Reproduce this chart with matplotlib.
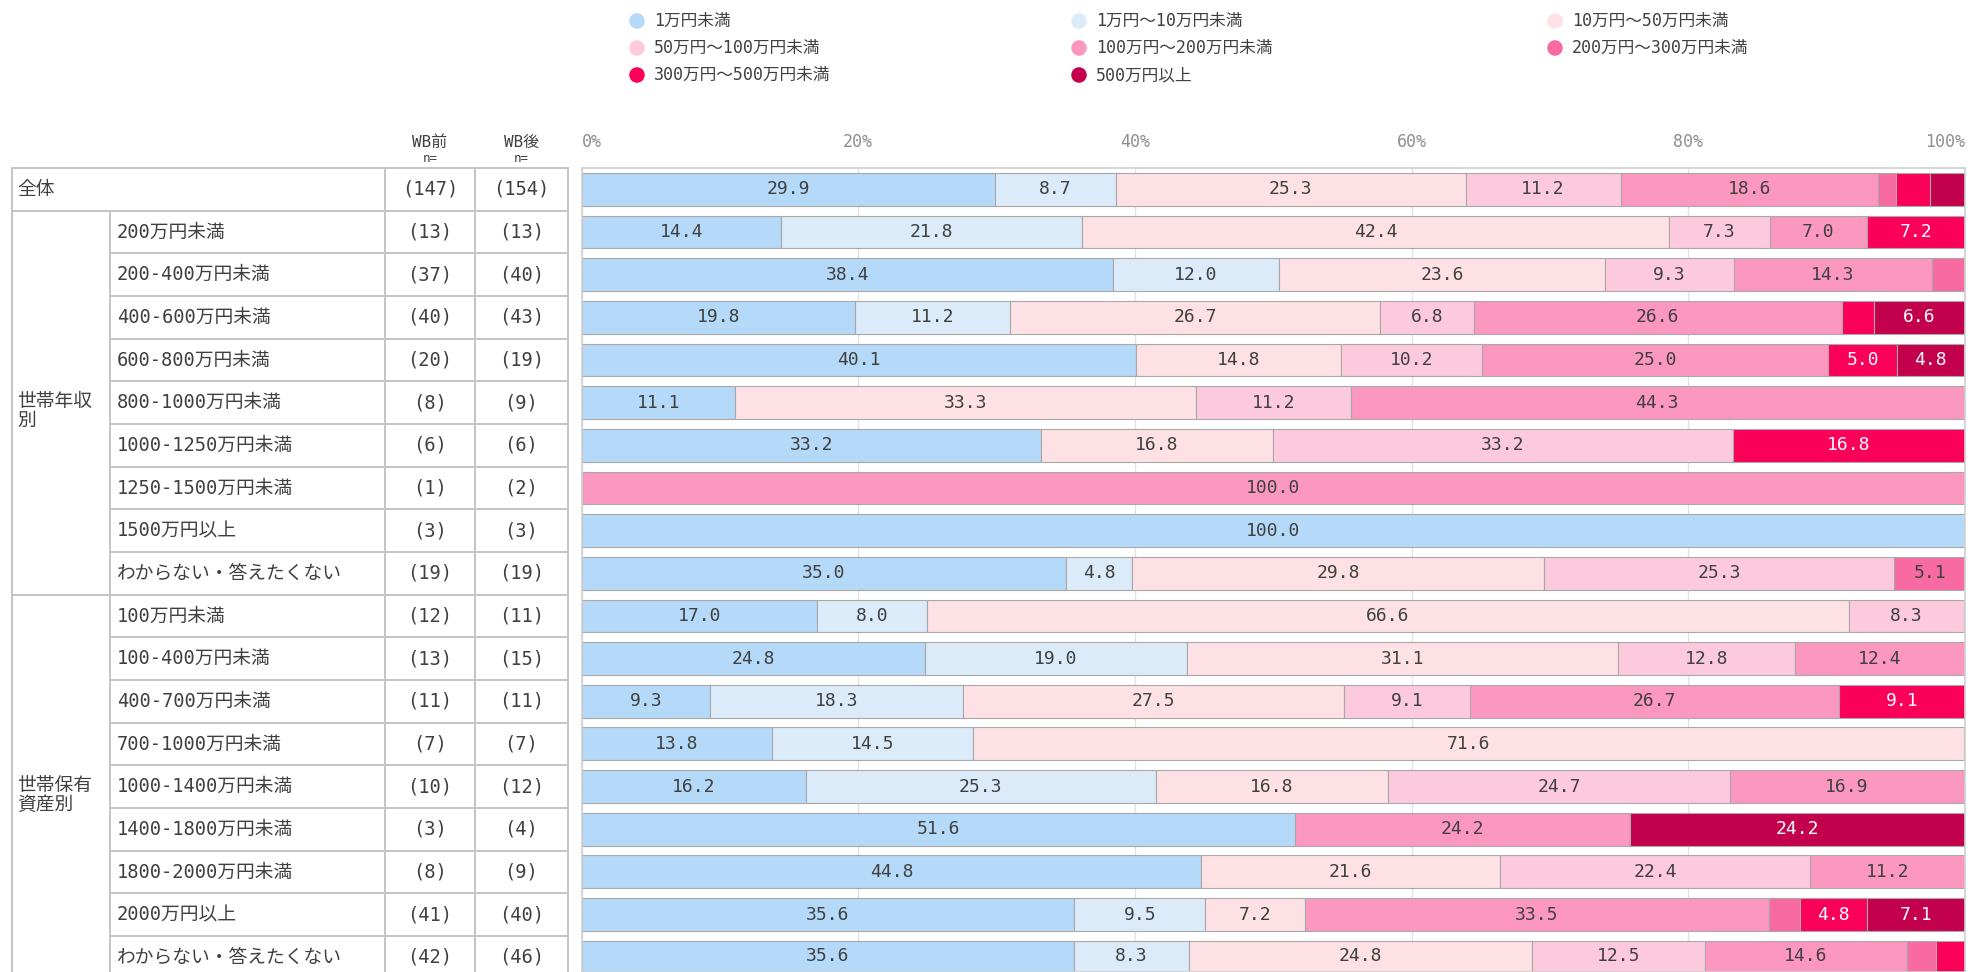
import matplotlib.pyplot as plt

plt.rcParams['font.family'] = ['DejaVu Sans Mono', 'Noto Sans CJK JP']

categories = ['1万円未満', '1万円～10万円未満', '10万円～50万円未満', '50万円～100万円未満',
              '100万円～200万円未満', '200万円～300万円未満', '300万円～500万円未満', '500万円以上']
colors = ['#b5d9f8', '#dbebfa', '#fde1e5', '#fdc9dc', '#fc97bf', '#f76aa2', '#fb0059', '#c3004b']
text_colors = ['#404040'] * 6 + ['white', 'white']

row_labels = ['全体',
              '200万円未満', '200-400万円未満', '400-600万円未満', '600-800万円未満',
              '800-1000万円未満', '1000-1250万円未満', '1250-1500万円未満', '1500万円以上',
              'わからない・答えたくない',
              '100万円未満', '100-400万円未満', '400-700万円未満', '700-1000万円未満',
              '1000-1400万円未満', '1400-1800万円未満', '1800-2000万円未満', '2000万円以上',
              'わからない・答えたくない']
n_before = [147, 13, 37, 40, 20, 8, 6, 1, 3, 19, 12, 13, 11, 7, 10, 3, 8, 41, 42]
n_after = [154, 13, 40, 43, 19, 9, 6, 2, 3, 19, 11, 15, 11, 7, 12, 4, 9, 40, 46]
groups = [('世帯年収\n別', 1, 9), ('世帯保有\n資産別', 10, 18)]

# share (%) of each amount band, one list per band, rows in table order
lt_1 = [29.9, 14.4, 38.4, 19.8, 40.1, 11.1, 33.2, 0, 100.0, 35.0,
        17.0, 24.8, 9.3, 13.8, 16.2, 51.6, 44.8, 35.6, 35.6]
r1_10 = [8.7, 21.8, 12.0, 11.2, 0, 0, 0, 0, 0, 4.8,
         8.0, 19.0, 18.3, 14.5, 25.3, 0, 0, 9.5, 8.3]
r10_50 = [25.3, 42.4, 23.6, 26.7, 14.8, 33.3, 16.8, 0, 0, 29.8,
          66.6, 31.1, 27.5, 71.6, 16.8, 0, 21.6, 7.2, 24.8]
r50_100 = [11.2, 7.3, 9.3, 6.8, 10.2, 11.2, 33.2, 0, 0, 25.3,
           8.3, 12.8, 9.1, 0, 24.7, 0, 22.4, 0, 12.5]
r100_200 = [18.6, 7.0, 14.3, 26.6, 25.0, 44.3, 0, 100.0, 0, 0,
            0, 12.4, 26.7, 0, 16.9, 24.2, 11.2, 33.5, 14.6]
r200_300 = [1.3, 0, 2.4, 0, 0, 0, 0, 0, 0, 5.1,
            0, 0, 0, 0, 0, 0, 0, 2.3, 2.1]
r300_500 = [2.5, 7.2, 0, 2.3, 5.0, 0, 16.8, 0, 0, 0,
            0, 0, 9.1, 0, 0, 0, 0, 4.8, 2.1]
ge_500 = [2.5, 0, 0, 6.6, 4.8, 0, 0, 0, 0, 0,
          0, 0, 0, 0, 0, 24.2, 0, 7.1, 0]
series = [lt_1, r1_10, r10_50, r50_100, r100_200, r200_300, r300_500, ge_500]

W, H = 1968, 972
fig = plt.figure(figsize=(W / 100, H / 100), dpi=100)

# layout in pixels
top = 168            # table / plot top edge
pitch = 42.66        # row height
x0, x1 = 581.5, 1965  # bar area
nrows = len(row_labels)
ybot = -0.5 + (H - top) / pitch

# overlay in pixel coordinates for table, header and legend
ov = fig.add_axes([0, 0, 1, 1])
ov.set_xlim(0, W)
ov.set_ylim(H, 0)
ov.axis('off')

# bars
ax = fig.add_axes([x0 / W, 0, (x1 - x0) / W, (H - top) / H])
ax.set_xlim(0, 100)
ax.set_ylim(ybot, -0.5)
left = [0.0] * nrows
for vals, col, tc in zip(series, colors, text_colors):
    idx = [i for i, v in enumerate(vals) if v > 0]
    if not idx:
        continue
    v = [vals[i] for i in idx]
    l = [left[i] for i in idx]
    bars = ax.barh(idx, v, left=l, height=0.77, color=col,
                   edgecolor='#a8a8a8', linewidth=0.8, zorder=2)
    ax.bar_label(bars, labels=[f'{x:.1f}' if x >= 3 else '' for x in v],
                 label_type='center', color=tc, fontsize=13)
    for i in idx:
        left[i] += vals[i]

ax.set_xticks([0, 20, 40, 60, 80, 100])
ax.set_xticklabels(['0%', '20%', '40%', '60%', '80%', '100%'])
ax.xaxis.tick_top()
ax.tick_params(axis='x', length=0, pad=12, labelsize=12, labelcolor='#8f8f8f')
tl = ax.get_xticklabels()
tl[0].set_ha('left')
tl[-1].set_ha('right')
ax.set_yticks([])
ax.grid(axis='x', color='#e2e2e2', linewidth=1)
ax.set_axisbelow(True)
for s in ax.spines.values():
    s.set_color('#d0d0d0')
    s.set_linewidth(1.2)

# table grid
lc, lw = '#c4c4c4', 1.4
cx_left, cx_grp, cx_n1, cx_n2, cx_right = 12, 110, 385, 475, 568


def row_y(i):
    return top + (i + 0.5) * pitch


ov.plot([cx_left, cx_right], [top, top], color=lc, lw=lw)
for x in (cx_left, cx_n1, cx_n2, cx_right):
    ov.plot([x, x], [top, H], color=lc, lw=lw)
ov.plot([cx_grp, cx_grp], [top + pitch, H], color=lc, lw=lw)
group_starts = [g[1] for g in groups]
for i in range(1, nrows + 1):
    yb = top + i * pitch
    xs = cx_left if i in group_starts else cx_grp
    ov.plot([xs, cx_right], [yb, yb], color=lc, lw=lw)

tcol = '#404040'
for i, (lab, a, b) in enumerate(zip(row_labels, n_before, n_after)):
    y = row_y(i)
    ov.text(17 if i == 0 else 117, y, lab, va='center', ha='left', fontsize=13.5, color=tcol)
    ov.text((cx_n1 + cx_n2) / 2, y, f'({a})', va='center', ha='center', fontsize=13.5, color=tcol)
    ov.text((cx_n2 + cx_right) / 2, y, f'({b})', va='center', ha='center', fontsize=13.5, color=tcol)

for name, a, b in groups:
    ymid = row_y((a + b) / 2)
    ov.text(17, ymid - 11, name, va='top', ha='left', fontsize=13.5, color=tcol, linespacing=1.0)

# column headers
for xc, head in (((cx_n1 + cx_n2) / 2, 'WB前'), ((cx_n2 + cx_right) / 2, 'WB後')):
    ov.text(xc, 142, head, ha='center', va='center', fontsize=11.5, color=tcol)
    ov.text(xc, 158, 'n=', ha='center', va='center', fontsize=9, color=tcol)

# legend, three columns filled row by row
leg_x = [637, 1079, 1555]
leg_y = [21, 48, 75]
for k, (cat, col) in enumerate(zip(categories, colors)):
    lx, ly = leg_x[k % 3], leg_y[k // 3]
    ov.scatter([lx], [ly], s=125, color=col, edgecolors='none')
    ov.text(lx + 17, ly, cat, va='center', ha='left', fontsize=12, color=tcol)

fig.savefig('out.png', dpi=100)
